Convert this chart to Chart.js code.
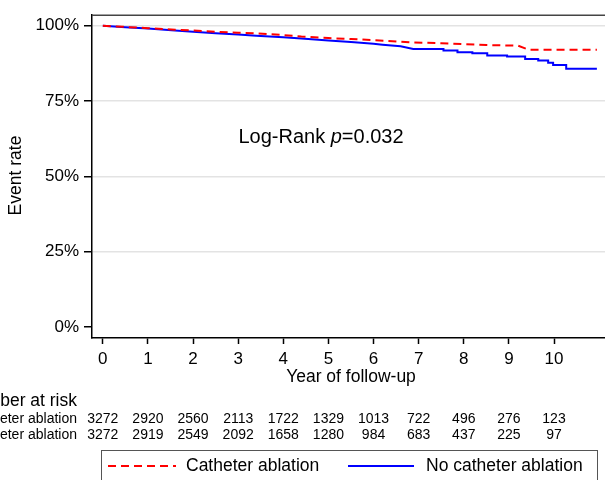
<!DOCTYPE html>
<html>
<head>
<meta charset="utf-8">
<script src="https://cdn.jsdelivr.net/npm/chart.js@4"></script>
<style>
  body { margin: 0; background: #fff; overflow: hidden; }
  canvas { display: block; }
</style>
</head>
<body>
<canvas id="km" width="605" height="480"></canvas>
<script>
// data
const years = [0, 1, 2, 3, 4, 5, 6, 7, 8, 9, 10];
const yTicks = [0, 25, 50, 75, 100];

const atRiskAblation = [3272, 2920, 2560, 2113, 1722, 1329, 1013, 722, 496, 276, 123];
const atRiskNoAblation = [3272, 2919, 2549, 2092, 1658, 1280, 984, 683, 437, 225, 97];

const ablationTime = [0, 0.5, 1, 1.6, 2, 2.5, 3, 3.4, 4, 4.4, 5, 5.5, 6, 6.3, 6.8, 7.5, 8, 8.5, 9.2, 9.45, 10.95];
const ablationRate = [100, 99.6, 99.2, 98.7, 98.4, 98.0, 97.7, 97.5, 96.9, 96.4, 95.9, 95.6, 95.2, 95.0, 94.5, 94.2, 93.9, 93.6, 93.4, 92.0, 92.0];

// drops after year 6.6 are given as pairs (same time, before and after the step)
const noAblationTime = [0, 0.5, 1, 1.6, 2, 2.5, 3, 3.4, 4, 4.4, 5, 5.5, 6, 6.2, 6.6, 6.88,
    7.55, 7.55, 7.86, 7.86, 8.19, 8.19, 8.52, 8.52, 8.96, 8.96, 9.36, 9.36, 9.65, 9.65, 9.87, 9.87, 9.98, 9.98, 10.27, 10.27, 10.95];
const noAblationRate = [100, 99.5, 99.1, 98.4, 98.0, 97.5, 97.1, 96.7, 96.2, 95.8, 95.1, 94.6, 94.0, 93.7, 93.2, 92.3,
    92.3, 91.8, 91.8, 91.2, 91.2, 90.9, 90.9, 90.1, 90.1, 89.8, 89.8, 89.0, 89.0, 88.5, 88.5, 87.7, 87.7, 87.0, 87.0, 85.7, 85.7];

const FONT = '"Liberation Sans", Arial, sans-serif';

function toPoints(t, v) {
    var pts = [];
    for (let i = 0; i < t.length; i++) {
        pts.push({ x: t[i], y: v[i] });
    }
    return pts;
}

const extras = {
    id: 'extras',
    afterDraw(chart) {
        const ctx = chart.ctx;
        const a = chart.chartArea;
        const x = chart.scales.x;
        ctx.save();

        // top frame line
        ctx.strokeStyle = '#444';
        ctx.lineWidth = 1.5;
        ctx.beginPath();
        ctx.moveTo(a.left, a.top);
        ctx.lineTo(a.right, a.top);
        ctx.stroke();

        ctx.fillStyle = '#000';

        // y title
        ctx.save();
        ctx.translate(16, 175.5);
        ctx.rotate(-Math.PI / 2);
        ctx.font = '17.5px ' + FONT;
        ctx.textAlign = 'center';
        ctx.textBaseline = 'middle';
        ctx.fillText('Event rate', 0, 0);
        ctx.restore();

        // x title
        ctx.font = '17.5px ' + FONT;
        ctx.textAlign = 'center';
        ctx.textBaseline = 'middle';
        ctx.fillText('Year of follow-up', 351, 377);

        // log-rank annotation
        ctx.font = '20px ' + FONT;
        const p1 = 'Log-Rank ', p3 = '=0.032';
        const w1 = ctx.measureText(p1).width;
        const w3 = ctx.measureText(p3).width;
        ctx.font = 'italic 20px ' + FONT;
        const w2 = ctx.measureText('p').width;
        let sx = 321 - (w1 + w2 + w3) / 2;
        ctx.textAlign = 'left';
        ctx.font = '20px ' + FONT;
        ctx.fillText(p1, sx, 137);
        ctx.font = 'italic 20px ' + FONT;
        ctx.fillText('p', sx + w1, 137);
        ctx.font = '20px ' + FONT;
        ctx.fillText(p3, sx + w1 + w2, 137);

        // number at risk
        ctx.textAlign = 'right';
        ctx.font = '17.5px ' + FONT;
        ctx.fillText('Number at risk', 77, 401);
        ctx.font = '14px ' + FONT;
        ctx.fillText('Catheter ablation', 77, 419);
        ctx.fillText('No catheter ablation', 77, 435.5);
        ctx.textAlign = 'center';
        for (let i = 0; i < years.length; i++) {
            const px = x.getPixelForValue(years[i]);
            ctx.fillText(String(atRiskAblation[i]), px, 419);
            ctx.fillText(String(atRiskNoAblation[i]), px, 435.5);
        }

        // legend
        ctx.strokeStyle = '#555';
        ctx.lineWidth = 1;
        ctx.strokeRect(101.5, 450.5, 496, 40);
        ctx.lineWidth = 2;
        ctx.strokeStyle = '#ff0000';
        ctx.setLineDash([8, 5]);
        ctx.beginPath();
        ctx.moveTo(108, 466);
        ctx.lineTo(176, 466);
        ctx.stroke();
        ctx.setLineDash([]);
        ctx.strokeStyle = '#0000ff';
        ctx.beginPath();
        ctx.moveTo(348, 466);
        ctx.lineTo(414, 466);
        ctx.stroke();
        ctx.font = '17.5px ' + FONT;
        ctx.textAlign = 'left';
        ctx.fillText('Catheter ablation', 186, 466);
        ctx.fillText('No catheter ablation', 426, 466);

        ctx.restore();
    }
};

new Chart(document.getElementById('km'), {
    type: 'line',
    data: {
        datasets: [
            {
                label: 'Catheter ablation',
                data: toPoints(ablationTime, ablationRate),
                borderColor: '#ff0000',
                borderWidth: 2,
                borderDash: [8, 5],
                pointRadius: 0,
                tension: 0,
                fill: false
            },
            {
                label: 'No catheter ablation',
                data: toPoints(noAblationTime, noAblationRate),
                borderColor: '#0000ff',
                borderWidth: 2,
                pointRadius: 0,
                tension: 0,
                fill: false
            }
        ]
    },
    options: {
        responsive: false,
        devicePixelRatio: 1,
        animation: false,
        layout: { padding: { top: 13, left: 0, right: 0, bottom: 0 } },
        plugins: {
            legend: { display: false },
            tooltip: { enabled: false }
        },
        scales: {
            x: {
                type: 'linear',
                min: -0.24,
                max: 11.13,
                afterBuildTicks: function (scale) {
                    scale.ticks = years.map(v => ({ value: v }));
                },
                afterFit: function (scale) { scale.height = 142; },
                ticks: {
                    color: '#000',
                    font: { family: FONT, size: 17 },
                    padding: 5,
                    maxRotation: 0,
                    autoSkip: false
                },
                grid: {
                    drawOnChartArea: false,
                    tickLength: 6,
                    tickColor: '#000',
                    tickWidth: 1.5
                },
                border: { color: '#000', width: 1.5 }
            },
            y: {
                min: -3.63,
                max: 103.5,
                afterBuildTicks: function (scale) {
                    scale.ticks = yTicks.map(v => ({ value: v }));
                },
                afterFit: function (scale) { scale.width = 92; },
                ticks: {
                    color: '#000',
                    font: { family: FONT, size: 17 },
                    padding: 5,
                    callback: v => v + '%'
                },
                grid: {
                    color: ctx => (ctx.tick && ctx.tick.value === 0) ? 'rgba(0,0,0,0)' : '#e3e3e3',
                    lineWidth: 1.5,
                    tickLength: 8,
                    tickColor: '#000',
                    tickWidth: 1.5
                },
                border: { color: '#000', width: 1.5 }
            }
        }
    },
    plugins: [extras]
});
</script>
</body>
</html>
